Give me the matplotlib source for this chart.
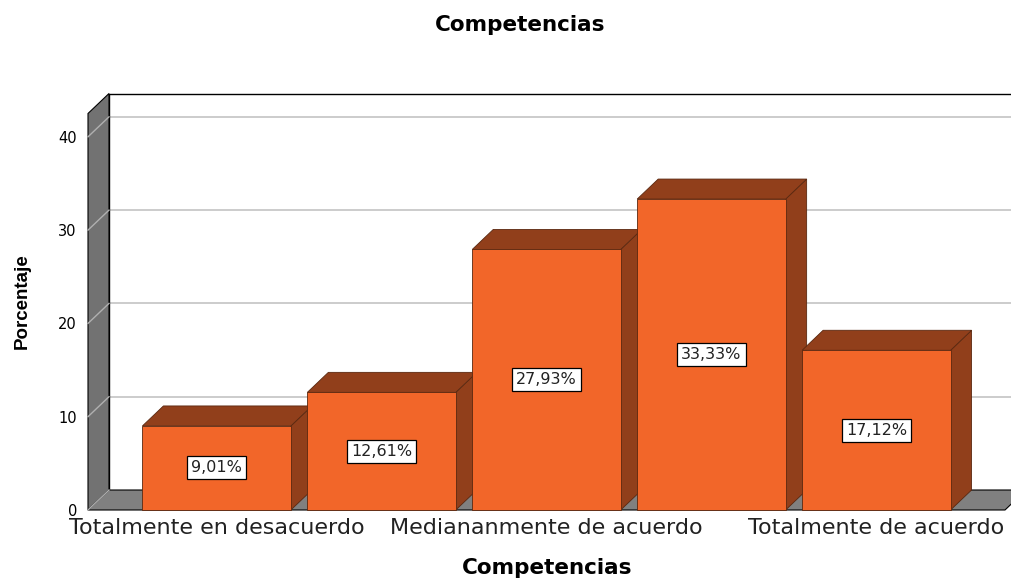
import matplotlib
matplotlib.use('Agg')
import matplotlib.pyplot as plt
from matplotlib.patches import Polygon, Rectangle

categories = ['Totalmente en desacuerdo', 'En desacuerdo', 'Mediananmente de acuerdo',
              'De acuerdo', 'Totalmente de acuerdo']
values = [9.01, 12.61, 27.93, 33.33, 17.12]
value_labels = ['9,01%', '12,61%', '27,93%', '33,33%', '17,12%']
yticks = [0, 10, 20, 30, 40]

front = '#f26629'
dark = '#913f1b'
edge = '#5a2810'
wall = '#727272'
floor = '#808080'

fig = plt.figure(figsize=(10.12, 5.78), dpi=100)
ax = fig.add_axes([88 / 1012, 68 / 578, (1005 - 88) / 1012, 396.5 / 578])
x0, x1 = -0.78, 4.78
ymax = 42.5
ax.set_xlim(x0, x1)
ax.set_ylim(0, ymax)
for s in ax.spines.values():
  s.set_visible(False)

# depth offset of the 3d box, in data units
ddx = 21 / 165.0
ddy = 20 / 9.33

def poly(pts, fc, ec='black', lw=0.8, z=1):
  ax.add_patch(Polygon(pts, closed=True, facecolor=fc, edgecolor=ec, linewidth=lw,
                       clip_on=False, zorder=z))

# back wall and its grid
ax.plot([x0 + ddx, x0 + ddx, x1 + ddx + 1], [ddy, ymax + ddy, ymax + ddy],
        color='black', lw=1.0, clip_on=False, zorder=2)
for v in yticks[1:]:
  ax.plot([x0 + ddx, x1 + ddx + 1], [v + ddy, v + ddy], color='#c8c8c8', lw=1.3,
          clip_on=False, zorder=1)

# left wall
poly([(x0, 0), (x0 + ddx, ddy), (x0 + ddx, ymax + ddy), (x0, ymax)], wall, z=3)
for v in yticks:
  ax.plot([x0, x0 + ddx], [v, v + ddy], color='#b0b0b0', lw=1.0, clip_on=False, zorder=4)

# floor
poly([(x0, 0), (x1, 0), (x1 + ddx, ddy), (x0 + ddx, ddy)], floor, z=3)

# bars
w = 0.9
for i, v in enumerate(values):
  l, r = i - w / 2, i + w / 2
  z = 5 + i
  poly([(r, 0), (r + ddx, ddy), (r + ddx, v + ddy), (r, v)], dark, ec=edge, lw=0.6, z=z)
  poly([(l, v), (r, v), (r + ddx, v + ddy), (l + ddx, v + ddy)], dark, ec=edge, lw=0.6, z=z)
  ax.add_patch(Rectangle((l, 0), w, v, facecolor=front, edgecolor=edge, linewidth=0.6,
                         clip_on=False, zorder=z))
  ax.text(i, v / 2, value_labels[i], ha='center', va='center', fontsize=11.5,
          color='#222222', zorder=20,
          bbox=dict(boxstyle='square,pad=0.25', facecolor='white', edgecolor='black', lw=0.9))

ax.set_yticks(yticks)
ax.set_yticklabels([str(t) for t in yticks], fontsize=10.5)
ax.set_xticks([0, 2, 4])
ax.set_xticklabels(categories[::2], fontsize=16, color='#222222')
ax.tick_params(axis='y', length=0, pad=8)
ax.tick_params(axis='x', length=0, pad=6)

fig.text(520 / 1012, 1 - 25 / 578, 'Competencias', ha='center', va='center',
         fontsize=15.5, fontweight='bold')
fig.text(547 / 1012, 1 - 568 / 578, 'Competencias', ha='center', va='center',
         fontsize=15.5, fontweight='bold')
fig.text(22 / 1012, 1 - 301 / 578, 'Porcentaje', ha='center', va='center', rotation=90,
         fontsize=13.5, fontweight='bold', family='Liberation Sans')

fig.savefig('out.png', dpi=100)
